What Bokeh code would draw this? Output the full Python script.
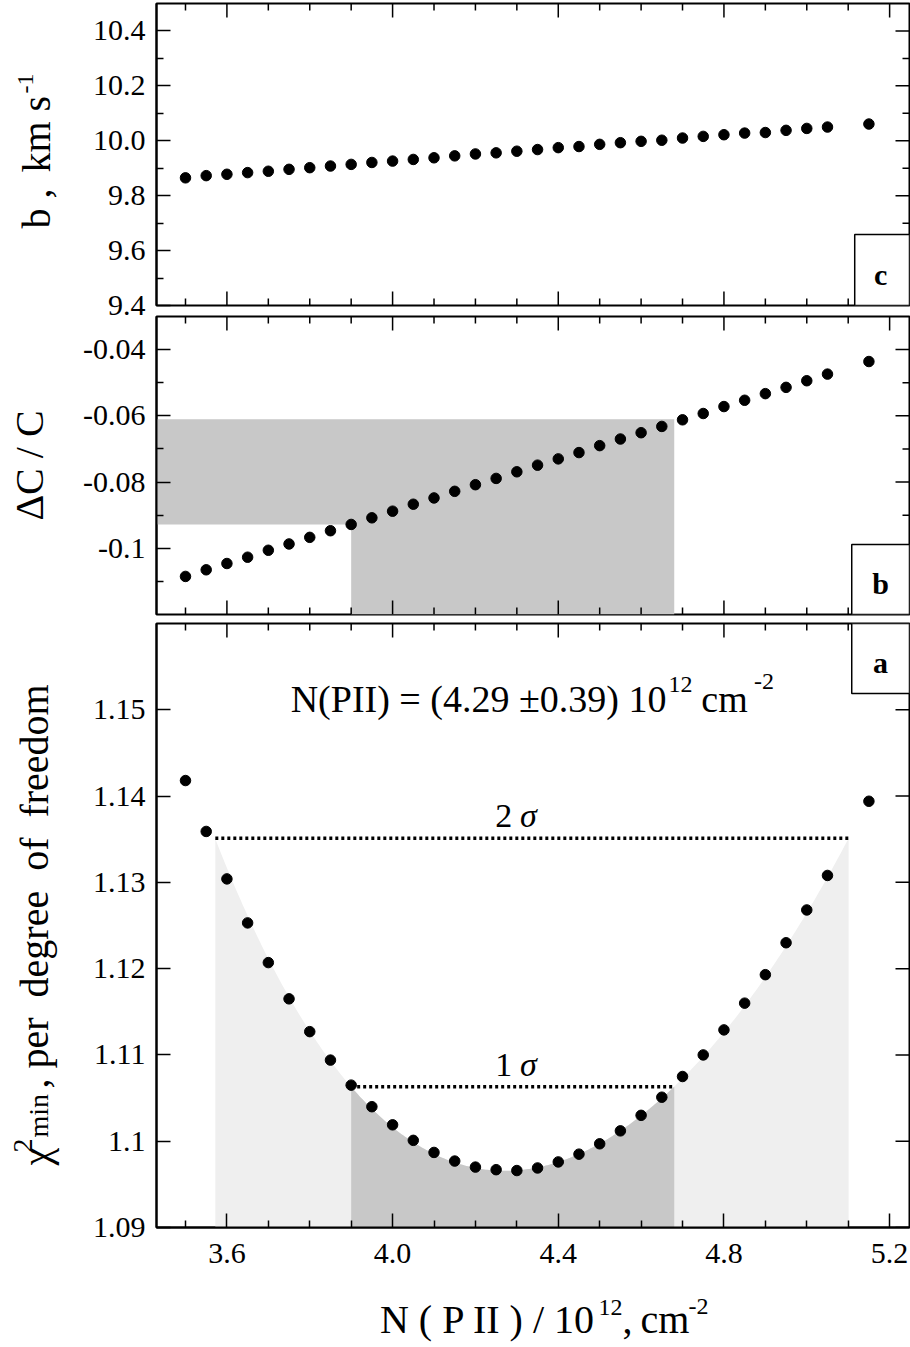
import numpy as np
from bokeh.plotting import figure
from bokeh.models import Range1d, LinearAxis, FixedTicker, BoxAnnotation, Label
from bokeh.layouts import column, row
from bokeh.embed import file_html
from bokeh.resources import INLINE

# ---------------------------------------------------------------- data
N_PII = [3.50, 3.55, 3.60, 3.65, 3.70, 3.75, 3.80, 3.85, 3.90, 3.95, 4.00,
         4.05, 4.10, 4.15, 4.20, 4.25, 4.30, 4.35, 4.40, 4.45, 4.50, 4.55,
         4.60, 4.65, 4.70, 4.75, 4.80, 4.85, 4.90, 4.95, 5.00, 5.05, 5.15]

B_KMS = [9.865, 9.873, 9.878, 9.884, 9.889, 9.896, 9.902, 9.908, 9.914,
         9.921, 9.926, 9.932, 9.938, 9.945, 9.952, 9.956, 9.962, 9.968,
         9.975, 9.979, 9.987, 9.993, 9.998, 10.002, 10.010, 10.016, 10.022,
         10.028, 10.030, 10.038, 10.045, 10.050, 10.061]

DC_OVER_C = [-0.1085, -0.1065, -0.1046, -0.1027, -0.1006, -0.0987, -0.0967,
             -0.0947, -0.0928, -0.0908, -0.0888, -0.0867, -0.0848, -0.0828,
             -0.0808, -0.0789, -0.0769, -0.0749, -0.0730, -0.0711, -0.0690,
             -0.0670, -0.0651, -0.0632, -0.0612, -0.0593, -0.0572, -0.0553,
             -0.0533, -0.0514, -0.0494, -0.0474, -0.0436]

CHI2_MIN = [1.1418, 1.1359, 1.1304, 1.1253, 1.1207, 1.1165, 1.1127, 1.1094,
            1.1065, 1.1040, 1.1019, 1.1001, 1.0987, 1.0977, 1.0970, 1.0967,
            1.0966, 1.0969, 1.0976, 1.0985, 1.0997, 1.1012, 1.1030, 1.1051,
            1.1075, 1.1100, 1.1129, 1.1160, 1.1193, 1.1230, 1.1268, 1.1308,
            1.1394]

# confidence intervals on N(PII) and the chi2 levels that define them
SIG1_RANGE = (3.90, 4.68)
SIG2_RANGE = (3.572, 5.101)
SIG1_LEVEL = 1.1063
SIG2_LEVEL = 1.1351
# Delta C / C interval corresponding to the 1 sigma range
DC_BAND = (-0.0928, -0.0610)

# axes
X_RANGE = (3.43, 5.248)
X_TICKS = [3.6, 4.0, 4.4, 4.8, 5.2]
X_TICK_LABELS = ["3.6", "4.0", "4.4", "4.8", "5.2"]
X_MINOR = [3.5, 3.7, 3.8, 3.9, 4.1, 4.2, 4.3, 4.5, 4.6, 4.7, 4.9, 5.0, 5.1]

YC_RANGE = (9.4, 10.5)
YC_TICKS = [9.4, 9.6, 9.8, 10.0, 10.2, 10.4]
YC_TICK_LABELS = ["9.4", "9.6", "9.8", "10.0", "10.2", "10.4"]
YC_MINOR = [9.5, 9.7, 9.9, 10.1, 10.3]

YB_RANGE = (-0.12, -0.03)
YB_TICKS = [-0.1, -0.08, -0.06, -0.04]
YB_TICK_LABELS = ["-0.1", "-0.08", "-0.06", "-0.04"]
YB_MINOR = [-0.11, -0.09, -0.07, -0.05]

YA_RANGE = (1.09, 1.16)
YA_TICKS = [1.09, 1.10, 1.11, 1.12, 1.13, 1.14, 1.15]
YA_TICK_LABELS = ["1.09", "1.1", "1.11", "1.12", "1.13", "1.14", "1.15"]

# ---------------------------------------------------------------- layout
W = 910
TITLE_W = 80                 # strip left of the panels holding the y titles
FX0, FX1 = 153, 909          # frame left / right on the page
SERIF = "Liberation Serif"
TICK_FONT = "30px"
TITLE = 40
SUP = 24
MAJ, MIN = 14, 7             # inward tick lengths
VERT = np.pi / 2
NB = "\u00a0"                # keeps wide gaps between words


class Place:
    """Maps page pixels to the data space of one figure."""

    def __init__(self, fig, fx, fy):
        self.fig, self.fx, self.fy = fig, fx, fy

    def text(self, xp, yp, s, size=TITLE, align="left", angle=0.0,
             style="normal"):
        # (xp, yp) is a point on the text baseline; bokeh anchors at the middle
        shift = 0.34 * size
        if angle == 0.0:
            yp = yp - shift
        else:
            xp = xp - shift
        self.fig.add_layout(Label(x=self.fx(xp), y=self.fy(yp), text=s,
                                  angle=angle, text_align=align,
                                  text_baseline="middle", text_font=SERIF,
                                  text_font_size=f"{size}px",
                                  text_font_style=style, text_color="black"))


def strip(w, h, ox, oy):
    f = figure(width=w, height=h, x_range=Range1d(0, w), y_range=Range1d(h, 0),
               x_axis_location=None, y_axis_location=None,
               output_backend="svg", toolbar_location=None,
               min_border_left=0, min_border_right=0,
               min_border_top=0, min_border_bottom=0)
    f.outline_line_color = None
    f.grid.grid_line_color = None
    return f, Place(f, lambda x: x - ox, lambda y: y - oy)


def style_axis(ax, standoff):
    ax.axis_line_color = "black"
    ax.axis_line_width = 2
    ax.major_tick_in = MAJ
    ax.major_tick_out = 0
    ax.minor_tick_in = MIN
    ax.minor_tick_out = 0
    ax.major_tick_line_width = 1.5
    ax.minor_tick_line_width = 1.5
    ax.major_tick_line_color = "black"
    ax.minor_tick_line_color = "black"
    ax.major_label_text_font = SERIF
    ax.major_label_text_font_size = TICK_FONT
    ax.major_label_text_color = "black"
    ax.major_label_standoff = standoff


def make_panel(y_range, y_ticks, y_labels, y_minor, top, frame_h, bottom,
               frame_top, x_labels):
    p = figure(width=W - TITLE_W, height=top + frame_h + bottom,
               x_range=Range1d(*X_RANGE), y_range=Range1d(*y_range),
               x_axis_location=None, y_axis_location=None,
               output_backend="svg", toolbar_location=None,
               min_border_left=FX0 - TITLE_W, min_border_right=W - FX1,
               min_border_top=top, min_border_bottom=bottom)
    p.grid.grid_line_color = None
    p.outline_line_color = "black"
    p.outline_line_width = 2
    p.background_fill_color = "white"
    p.border_fill_color = "white"

    ax = LinearAxis(ticker=FixedTicker(ticks=y_ticks, minor_ticks=y_minor))
    ax.major_label_overrides = dict(zip(y_ticks, y_labels))
    style_axis(ax, 11)
    p.add_layout(ax, "left")

    y0, y1 = y_range
    tick = dict(length_units="screen", line_color="black", line_width=1.5)
    # inward ticks on the right edge
    p.ray(x=[X_RANGE[1]] * len(y_ticks), y=y_ticks, length=MAJ, angle=np.pi, **tick)
    if y_minor:
        p.ray(x=[X_RANGE[1]] * len(y_minor), y=y_minor, length=MIN, angle=np.pi, **tick)
    # inward ticks on the top edge
    p.ray(x=X_TICKS, y=[y1] * len(X_TICKS), length=MAJ, angle=-VERT, **tick)
    p.ray(x=X_MINOR, y=[y1] * len(X_MINOR), length=MIN, angle=-VERT, **tick)
    if x_labels:
        bx = LinearAxis(ticker=FixedTicker(ticks=X_TICKS, minor_ticks=X_MINOR))
        bx.major_label_overrides = dict(zip(X_TICKS, X_TICK_LABELS))
        style_axis(bx, 16)
        p.add_layout(bx, "below")
    else:
        p.ray(x=X_TICKS, y=[y0] * len(X_TICKS), length=MAJ, angle=VERT, **tick)
        p.ray(x=X_MINOR, y=[y0] * len(X_MINOR), length=MIN, angle=VERT, **tick)

    fx = lambda xp: X_RANGE[0] + (xp - FX0) / (FX1 - FX0) * (X_RANGE[1] - X_RANGE[0])
    fy = lambda yp: y1 - (yp - frame_top) / frame_h * (y1 - y0)
    return p, Place(p, fx, fy)


def tag(p, place, xl, yt, yb, letter, ybase):
    p.add_layout(BoxAnnotation(left=place.fx(xl), right=X_RANGE[1],
                               top=place.fy(yt), bottom=place.fy(yb),
                               fill_color="white", fill_alpha=1.0,
                               line_color="black", line_alpha=1.0,
                               line_width=1.5))
    place.text(880, ybase, letter, size=30, align="center", style="bold")


# ---------------------------------------------------------------- panel c
H_C = 3 + 302 + 10
pc, plc = make_panel(YC_RANGE, YC_TICKS, YC_TICK_LABELS, YC_MINOR,
                     top=3, frame_h=302, bottom=10, frame_top=3, x_labels=False)
pc.scatter(N_PII, B_KMS, size=10.5, color="black")
tag(pc, plc, 854, 234, 305, "c", 284)

# ---------------------------------------------------------------- panel b
H_B = 1 + 298 + 4
pb, plb = make_panel(YB_RANGE, YB_TICKS, YB_TICK_LABELS, YB_MINOR,
                     top=1, frame_h=298, bottom=4, frame_top=316, x_labels=False)
lo, hi = SIG1_RANGE
band_x = [X_RANGE[0], hi, hi, lo, lo, X_RANGE[0]]
band_y = [DC_BAND[1], DC_BAND[1], YB_RANGE[0], YB_RANGE[0], DC_BAND[0], DC_BAND[0]]
pb.patch(band_x, band_y, fill_color="#c8c8c8", line_color=None, level="underlay")
pb.scatter(N_PII, DC_OVER_C, size=10.5, color="black")
tag(pb, plb, 851, 544, 614, "b", 593)

# ---------------------------------------------------------------- panel a
H_A = 5 + 604 + 50
pa, pla = make_panel(YA_RANGE, YA_TICKS, YA_TICK_LABELS, [],
                     top=5, frame_h=604, bottom=50, frame_top=623, x_labels=True)

# smooth chi2 curve through the points, pinned to the sigma crossings
n = np.array(N_PII)
c2 = np.array(CHI2_MIN)
sel = (n >= 3.55) & (n <= 5.05)
fx = np.concatenate([n[sel], [SIG2_RANGE[0], SIG1_RANGE[0], SIG1_RANGE[1], SIG2_RANGE[1]]])
fy = np.concatenate([c2[sel], [SIG2_LEVEL, SIG1_LEVEL, SIG1_LEVEL, SIG2_LEVEL]])
wts = np.concatenate([np.ones(sel.sum()), np.full(4, 8.0)])
coef = np.polyfit(fx, fy, 4, w=wts)

x2 = np.linspace(SIG2_RANGE[0], SIG2_RANGE[1], 300)
pa.varea(x=x2, y1=np.full_like(x2, YA_RANGE[0]),
         y2=np.minimum(np.polyval(coef, x2), SIG2_LEVEL),
         fill_color="#efefef", level="underlay")
x1 = np.linspace(SIG1_RANGE[0], SIG1_RANGE[1], 200)
pa.varea(x=x1, y1=np.full_like(x1, YA_RANGE[0]),
         y2=np.minimum(np.polyval(coef, x1), SIG1_LEVEL),
         fill_color="#c8c8c8", level="underlay")

dots = dict(line_color="black", line_width=3.5, line_dash="3 3", line_cap="butt")
pa.line(list(SIG2_RANGE), [SIG2_LEVEL, SIG2_LEVEL], **dots)
pa.line(list(SIG1_RANGE), [SIG1_LEVEL, SIG1_LEVEL], **dots)
pa.scatter(N_PII, CHI2_MIN, size=10.5, color="black")

tag(pa, pla, 851, 623, 693, "a", 672)

pla.text(493, 827, "2", size=34)
pla.text(518, 827, "\u03c3", size=34, style="italic")
pla.text(493, 1076, "1", size=34)
pla.text(518, 1076, "\u03c3", size=34, style="italic")

pla.text(665, 711, "N(PII) = (4.29 \u00b10.39) 10", size=38, align="right")
pla.text(667, 692, "12", size=SUP)
pla.text(700, 711, "cm", size=38)
pla.text(753, 689, "-2", size=SUP)

# ---------------------------------------------------------------- y titles
H_PANELS = H_C + H_B + H_A
ty, tly = strip(TITLE_W, H_PANELS, 0, 0)
tly.text(50, 228, "b ,", angle=VERT)
tly.text(50, 172, "km s", angle=VERT)
tly.text(33, 93, "-1", size=SUP, angle=VERT)

tly.text(43, 465, "\u0394C / C", align="center", angle=VERT)

tly.text(50, 1165, "\u03c7", size=40, angle=VERT)
tly.text(32, 1152, "2", size=28, angle=VERT)
tly.text(48, 1137, "min", size=28, angle=VERT)
tly.text(48, 1088, f", per{NB} degree{NB} of{NB} freedom", angle=VERT)

# ---------------------------------------------------------------- x title
H_X = 1345 - H_PANELS
tx, tlx = strip(W, H_X, 0, H_PANELS)
tlx.text(595, 1333, "N ( P II ) / 10", align="right")
tlx.text(598, 1315, "12", size=SUP)
tlx.text(622, 1333, ",")
tlx.text(640, 1333, "cm")
tlx.text(688, 1314, "-2", size=SUP)

panels = column(pc, pb, pa, spacing=0)
layout = column(row(ty, panels, spacing=0), tx, spacing=0)
open("out.html", "w").write(file_html(layout, INLINE))
